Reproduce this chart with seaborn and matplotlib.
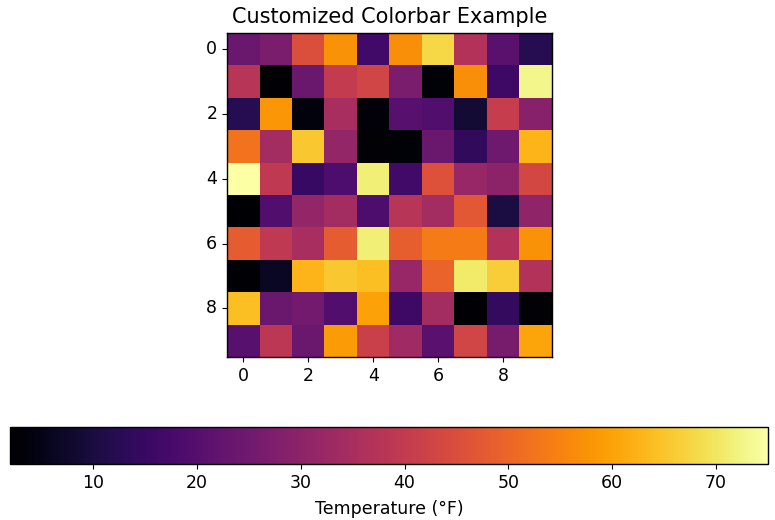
import numpy as np
import matplotlib
matplotlib.use("Agg")
import matplotlib.pyplot as plt
import seaborn as sns

# temperature grid (rows 0..9, columns 0..9)
row0 = [23.9, 26.8, 45.1, 57.5, 16.6, 56.8, 67.7, 37.0, 21.0, 12.2]
row1 = [37.8, 2.5, 23.9, 40.0, 42.9, 26.8, 3.0, 56.8, 15.9, 72.8]
row2 = [12.2, 58.2, 3.5, 34.9, 3.4, 20.3, 19.5, 8.6, 40.7, 29.0]
row3 = [52.4, 34.1, 65.5, 31.2, 2.8, 3.0, 23.9, 13.7, 24.6, 62.6]
row4 = [75.0, 39.2, 15.1, 18.8, 71.4, 16.6, 45.8, 31.9, 29.7, 43.6]
row5 = [2.0, 19.5, 31.2, 34.1, 18.8, 37.8, 34.1, 47.3, 10.0, 30.5]
row6 = [48.0, 39.2, 34.9, 48.0, 71.4, 48.7, 53.8, 53.8, 37.0, 57.5]
row7 = [2.3, 6.4, 62.6, 65.5, 64.1, 31.9, 49.5, 70.6, 66.2, 37.0]
row8 = [64.1, 23.9, 25.4, 19.5, 59.7, 15.9, 34.1, 2.4, 14.4, 2.6]
row9 = [20.3, 38.5, 23.9, 58.9, 41.4, 33.4, 21.0, 42.9, 26.1, 60.4]
tick_labels = [0, 2, 4, 6, 8]
cbar_ticks = [10, 20, 30, 40, 50, 60, 70]

data = np.array([row0, row1, row2, row3, row4, row5, row6, row7, row8, row9])

fig = plt.figure(figsize=(7.75, 5.2), dpi=100)
ax = fig.add_axes([0.293, 0.3135, 0.419, 0.623])
cax = fig.add_axes([0.0129, 0.1077, 0.978, 0.0712])

sns.heatmap(data, cmap="inferno", ax=ax, cbar_ax=cax,
            cbar_kws={"orientation": "horizontal", "ticks": cbar_ticks})

# imshow-like ticks at cell centres
pos = [t + 0.5 for t in tick_labels]
ax.set_xticks(pos)
ax.set_xticklabels(tick_labels, rotation=0)
ax.set_yticks(pos)
ax.set_yticklabels(tick_labels, rotation=0)
ax.tick_params(labelsize=12.5, length=3.5)
for s in ax.spines.values():
    s.set_visible(True)
    s.set_color("black")
    s.set_linewidth(1.0)
ax.set_title("Customized Colorbar Example", fontsize=15, pad=7)

cb = ax.collections[0].colorbar
cb.outline.set_linewidth(1.0)
cb.outline.set_edgecolor("black")
cb.ax.tick_params(labelsize=12.5, length=3.5)
cb.set_label("Temperature (°F)", fontsize=12.5, labelpad=6)

fig.savefig("out.png", dpi=100)
